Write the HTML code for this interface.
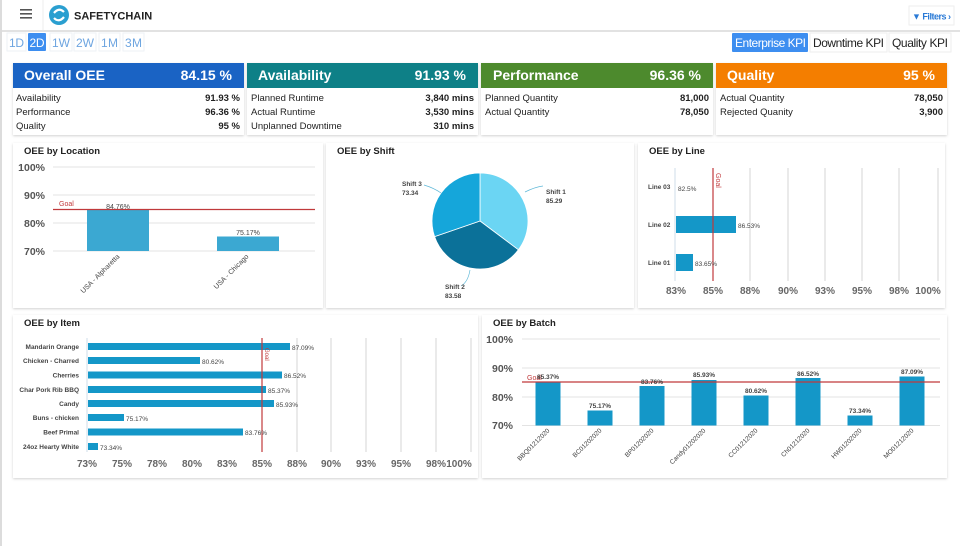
<!DOCTYPE html>
<html><head><meta charset="utf-8"><style>
html,body{margin:0;padding:0;background:#fff;width:960px;height:546px;overflow:hidden;font-family:"Liberation Sans",Arial,sans-serif}
svg{display:block}
text{font-family:"Liberation Sans",Arial,sans-serif}
</style></head><body>
<svg width="960" height="546" viewBox="0 0 960 546" xmlns="http://www.w3.org/2000/svg">
<defs><filter id="sh" x="-5%" y="-5%" width="110%" height="115%"><feDropShadow dx="0" dy="1" stdDeviation="1.2" flood-color="#000" flood-opacity="0.18"/></filter></defs>
<!-- header -->
<rect x="0" y="0" width="960" height="30" fill="#fff"/>
<rect x="0" y="30" width="960" height="2" fill="#e2e2e2"/>
<rect x="0" y="0" width="2" height="546" fill="#dcdcdc"/>
<line x1="43" y1="0" x2="43" y2="30" stroke="#eee"/>
<rect x="20" y="9" width="12" height="1.6" fill="#555"/><rect x="20" y="13" width="12" height="1.6" fill="#555"/><rect x="20" y="17" width="12" height="1.6" fill="#555"/>
<circle cx="59" cy="15" r="10" fill="#2a9fd0"/>
<path d="M54 13 q5 -6 10 -1 M64 17 q-5 6 -10 1" stroke="#fff" stroke-width="2.2" fill="none"/>
<text x="74" y="19.5" font-size="11" font-weight="bold" fill="#222">SAFETYCHAIN</text>
<rect x="909" y="6" width="45" height="19" fill="#fff" stroke="#eee"/>
<text x="912" y="19.5" font-size="9" font-weight="bold" fill="#2a7ad6" textLength="39">▼ Filters ›</text>
<!-- time buttons -->
<g font-size="12" fill="#6ea5e0">
<rect x="7" y="33" width="19" height="18" fill="#fff" stroke="#eef2f6"/><text x="9" y="47" textLength="15">1D</text>
<rect x="28" y="33" width="18" height="18" fill="#3d8ef0" rx="1"/><text x="29.5" y="47" fill="#fff" textLength="15">2D</text>
<rect x="50" y="33" width="22" height="18" fill="#fff" stroke="#eef2f6"/><text x="52" y="47" textLength="18">1W</text>
<rect x="74" y="33" width="22" height="18" fill="#fff" stroke="#eef2f6"/><text x="76" y="47" textLength="18">2W</text>
<rect x="99" y="33" width="21" height="18" fill="#fff" stroke="#eef2f6"/><text x="101" y="47" textLength="17">1M</text>
<rect x="123" y="33" width="21" height="18" fill="#fff" stroke="#eef2f6"/><text x="125" y="47" textLength="17">3M</text>
</g>
<rect x="732" y="33" width="76" height="19" fill="#3d8ef0" rx="1"/>
<text x="735" y="47" font-size="12" fill="#fff" textLength="71">Enterprise KPI</text>
<rect x="810" y="33" width="77" height="19" fill="#fff" stroke="#eee"/>
<text x="813" y="47" font-size="12" fill="#222" textLength="71">Downtime KPI</text>
<rect x="889" y="33" width="62" height="19" fill="#fff" stroke="#eee"/>
<text x="892" y="47" font-size="12" fill="#222" textLength="56">Quality KPI</text>
<!-- KPI cards -->
<g filter="url(#sh)">
<rect x="13" y="63" width="231" height="72" fill="#fff"/>
<rect x="247" y="63" width="231" height="72" fill="#fff"/>
<rect x="481" y="63" width="232" height="72" fill="#fff"/>
<rect x="716" y="63" width="231" height="72" fill="#fff"/>
</g>
<rect x="13" y="63" width="231" height="25" fill="#1a63c4"/>
<rect x="247" y="63" width="231" height="25" fill="#0e8087"/>
<rect x="481" y="63" width="232" height="25" fill="#4d8a2d"/>
<rect x="716" y="63" width="231" height="25" fill="#f47e00"/>
<g font-size="14" font-weight="bold" fill="#fff">
<text x="24" y="80">Overall OEE</text><text x="232" y="80" text-anchor="end">84.15 %</text>
<text x="258" y="80">Availability</text><text x="466" y="80" text-anchor="end">91.93 %</text>
<text x="493" y="80">Performance</text><text x="701" y="80" text-anchor="end">96.36 %</text>
<text x="727" y="80">Quality</text><text x="935" y="80" text-anchor="end">95 %</text>
</g>
<g font-size="9.5" fill="#222">
<text x="16" y="101">Availability</text><text x="16" y="115">Performance</text><text x="16" y="129">Quality</text>
<text x="251" y="101">Planned Runtime</text><text x="251" y="115">Actual Runtime</text><text x="251" y="129">Unplanned Downtime</text>
<text x="485" y="101">Planned Quantity</text><text x="485" y="115">Actual Quantity</text>
<text x="720" y="101">Actual Quantity</text><text x="720" y="115">Rejected Quanity</text>
</g>
<g font-size="9.5" font-weight="bold" fill="#222" text-anchor="end">
<text x="240" y="101">91.93 %</text><text x="240" y="115">96.36 %</text><text x="240" y="129">95 %</text>
<text x="474" y="101">3,840 mins</text><text x="474" y="115">3,530 mins</text><text x="474" y="129">310 mins</text>
<text x="709" y="101">81,000</text><text x="709" y="115">78,050</text>
<text x="943" y="101">78,050</text><text x="943" y="115">3,900</text>
</g>
<!-- chart cards -->
<g filter="url(#sh)">
<rect x="13" y="143" width="310" height="165" fill="#fff"/>
<rect x="326" y="143" width="308" height="165" fill="#fff"/>
<rect x="638" y="143" width="307" height="165" fill="#fff"/>
<rect x="13" y="315" width="465" height="163" fill="#fff"/>
<rect x="482" y="315" width="465" height="163" fill="#fff"/>
</g>
<g font-size="9.5" font-weight="bold" fill="#222">
<text x="24" y="154">OEE by Location</text>
<text x="337" y="154">OEE by Shift</text>
<text x="649" y="154">OEE by Line</text>
<text x="24" y="326">OEE by Item</text>
<text x="493" y="326">OEE by Batch</text>
</g>
<!-- Location -->
<g stroke="#e3e3e3"><line x1="53" y1="167" x2="315" y2="167"/><line x1="53" y1="195" x2="315" y2="195"/><line x1="53" y1="223" x2="315" y2="223"/><line x1="53" y1="251" x2="315" y2="251"/></g>
<g font-size="10.5" font-weight="bold" fill="#555" text-anchor="end"><text x="45" y="171">100%</text><text x="45" y="199">90%</text><text x="45" y="227">80%</text><text x="45" y="255">70%</text></g>
<rect x="87" y="210" width="62" height="41" fill="#3ba8d2"/>
<rect x="217" y="236.5" width="62" height="14.5" fill="#3ba8d2"/>
<line x1="53" y1="209.5" x2="315" y2="209.5" stroke="#c0393b" stroke-width="1.2"/>
<text x="59" y="206" font-size="7" fill="#c0393b">Goal</text>
<g font-size="7" fill="#444" text-anchor="middle"><text x="118" y="209">84.76%</text><text x="248" y="235">75.17%</text></g>
<g font-size="7" fill="#444" text-anchor="end">
<text transform="translate(120,257) rotate(-45)">USA - Alpharetta</text>
<text transform="translate(249,257) rotate(-45)">USA - Chicago</text></g>
<!-- Pie -->
<path d="M480 221 L480 173 A48 48 0 0 1 518.4 249.8 Z" fill="#6bd5f3" stroke="#fff" stroke-width="0.8"/>
<path d="M480 221 L518.4 249.8 A48 48 0 0 1 434.6 236.6 Z" fill="#0b7199" stroke="#fff" stroke-width="0.8"/>
<path d="M480 221 L434.6 236.6 A48 48 0 0 1 480 173 Z" fill="#15a6da" stroke="#fff" stroke-width="0.8"/>
<g stroke="#5fb8d8" fill="none" stroke-width="0.7"><path d="M424 185 q10 3 17 8"/><path d="M525 192 q10 -5 18 -6"/><path d="M470 270 q-2 12 -9 16"/></g>
<g font-size="6.5" font-weight="bold" fill="#444"><text x="402" y="186">Shift 3</text><text x="402" y="195">73.34</text>
<text x="546" y="194">Shift 1</text><text x="546" y="203">85.29</text>
<text x="445" y="289">Shift 2</text><text x="445" y="298">83.58</text></g>
<!-- Line -->
<g stroke="#d6d6d6"><line x1="750" y1="168" x2="750" y2="281"/><line x1="788" y1="168" x2="788" y2="281"/><line x1="825" y1="168" x2="825" y2="281"/><line x1="862" y1="168" x2="862" y2="281"/><line x1="899" y1="168" x2="899" y2="281"/><line x1="938" y1="168" x2="938" y2="281"/></g>
<line x1="675" y1="168" x2="675" y2="281" stroke="#cfdde8"/>
<rect x="676" y="216" width="60" height="17" fill="#1497c8"/>
<rect x="676" y="254" width="17" height="17" fill="#1497c8"/>
<line x1="713" y1="168" x2="713" y2="281" stroke="#c0393b" stroke-width="1.2"/>
<text transform="translate(716,173) rotate(90)" font-size="7" fill="#c0393b">Goal</text>
<g font-size="6.5" font-weight="bold" fill="#444"><text x="648" y="189">Line 03</text><text x="648" y="227">Line 02</text><text x="648" y="265">Line 01</text></g>
<g font-size="6.5" fill="#444"><text x="678" y="191">82.5%</text><text x="738" y="228">86.53%</text><text x="695" y="266">83.65%</text></g>
<g font-size="10" font-weight="bold" fill="#666" text-anchor="middle"><text x="676" y="294">83%</text><text x="713" y="294">85%</text><text x="750" y="294">88%</text><text x="788" y="294">90%</text><text x="825" y="294">93%</text><text x="862" y="294">95%</text><text x="899" y="294">98%</text><text x="928" y="294">100%</text></g>
<!-- Item -->
<g stroke="#d6d6d6"><line x1="297" y1="338" x2="297" y2="452"/><line x1="331" y1="338" x2="331" y2="452"/><line x1="366" y1="338" x2="366" y2="452"/><line x1="401" y1="338" x2="401" y2="452"/><line x1="436" y1="338" x2="436" y2="452"/><line x1="471" y1="338" x2="471" y2="452"/></g>
<line x1="87" y1="338" x2="87" y2="452" stroke="#cfdde8"/>
<g fill="#1497c8">
<rect x="88" y="343" width="202" height="7"/>
<rect x="88" y="357" width="112" height="7"/>
<rect x="88" y="371.5" width="194" height="7"/>
<rect x="88" y="386" width="178" height="7"/>
<rect x="88" y="400" width="186" height="7"/>
<rect x="88" y="414" width="36" height="7"/>
<rect x="88" y="428.5" width="155" height="7"/>
<rect x="88" y="443" width="10" height="7"/>
</g>
<line x1="262" y1="338" x2="262" y2="452" stroke="#c0393b" stroke-width="1.2"/>
<text transform="translate(265,348) rotate(90)" font-size="6" fill="#c0393b">Goal</text>
<g font-size="6.5" font-weight="bold" fill="#444" text-anchor="end">
<text x="79" y="349">Mandarin Orange</text><text x="79" y="363">Chicken - Charred</text><text x="79" y="377.5">Cherries</text><text x="79" y="392">Char Pork Rib BBQ</text><text x="79" y="406">Candy</text><text x="79" y="420">Buns - chicken</text><text x="79" y="434.5">Beef Primal</text><text x="79" y="449">24oz Hearty White</text></g>
<g font-size="6.5" fill="#444">
<text x="292" y="350">87.09%</text><text x="202" y="364">80.62%</text><text x="284" y="378">86.52%</text><text x="268" y="393">85.37%</text><text x="276" y="407">85.93%</text><text x="126" y="421">75.17%</text><text x="245" y="435">83.76%</text><text x="100" y="450">73.34%</text></g>
<g font-size="10" font-weight="bold" fill="#666" text-anchor="middle"><text x="87" y="467">73%</text><text x="122" y="467">75%</text><text x="157" y="467">78%</text><text x="192" y="467">80%</text><text x="227" y="467">83%</text><text x="262" y="467">85%</text><text x="297" y="467">88%</text><text x="331" y="467">90%</text><text x="366" y="467">93%</text><text x="401" y="467">95%</text><text x="436" y="467">98%</text><text x="459" y="467">100%</text></g>
<!-- Batch -->
<g stroke="#e3e3e3"><line x1="522" y1="339" x2="940" y2="339"/><line x1="522" y1="368" x2="940" y2="368"/><line x1="522" y1="397" x2="940" y2="397"/><line x1="522" y1="425.5" x2="940" y2="425.5"/></g>
<g font-size="10.5" font-weight="bold" fill="#555" text-anchor="end"><text x="513" y="343">100%</text><text x="513" y="372">90%</text><text x="513" y="401">80%</text><text x="513" y="429">70%</text></g>
<g fill="#1497c8">
<rect x="535.5" y="381.5" width="25" height="44"/>
<rect x="587.5" y="410.5" width="25" height="15"/>
<rect x="639.5" y="386" width="25" height="39.5"/>
<rect x="691.5" y="380" width="25" height="45.5"/>
<rect x="743.5" y="395.5" width="25" height="30"/>
<rect x="795.5" y="378" width="25" height="47.5"/>
<rect x="847.5" y="415.5" width="25" height="10"/>
<rect x="899.5" y="376.5" width="25" height="49"/>
</g>
<line x1="522" y1="382" x2="940" y2="382" stroke="#c0393b" stroke-width="1.2"/>
<text x="527" y="380" font-size="7" fill="#c0393b">Goal</text>
<g font-size="6.5" font-weight="bold" fill="#444" text-anchor="middle">
<text x="548" y="379">85.37%</text><text x="600" y="408">75.17%</text><text x="652" y="384">83.76%</text><text x="704" y="377">85.93%</text><text x="756" y="393">80.62%</text><text x="808" y="376">86.52%</text><text x="860" y="413">73.34%</text><text x="912" y="374">87.09%</text></g>
<g font-size="6.5" fill="#444" text-anchor="end">
<text transform="translate(550,431) rotate(-45)">BBQ01212020</text>
<text transform="translate(602,431) rotate(-45)">BC01202020</text>
<text transform="translate(654,431) rotate(-45)">BP01202020</text>
<text transform="translate(706,431) rotate(-45)">Candy01202020</text>
<text transform="translate(758,431) rotate(-45)">CC01212020</text>
<text transform="translate(810,431) rotate(-45)">Ch01212020</text>
<text transform="translate(862,431) rotate(-45)">HW01202020</text>
<text transform="translate(914,431) rotate(-45)">MO01212020</text>
</g>
</svg>
</body></html>
